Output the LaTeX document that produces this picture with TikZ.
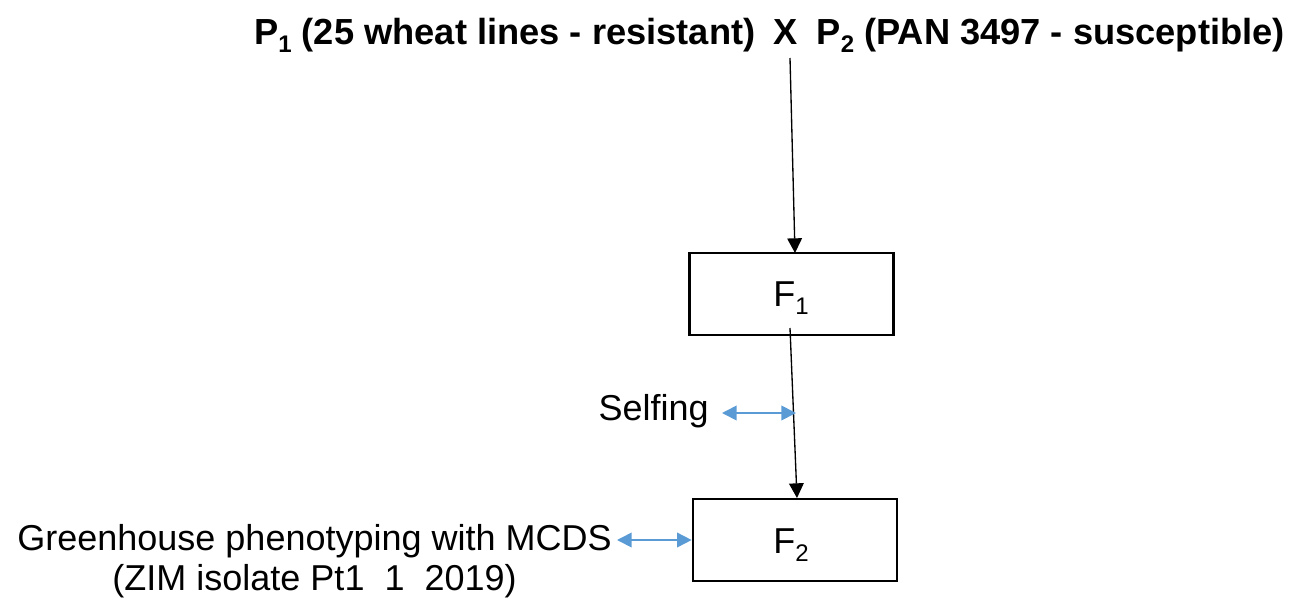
\documentclass[tikz,border=0pt]{standalone}
\usepackage{fontspec}
\setmainfont{Liberation Sans}
\usetikzlibrary{arrows.meta}
\definecolor{arrowblue}{RGB}{91,155,213}
\newcommand{\lowsub}[1]{\raisebox{-0.45ex}{\fontsize{18}{20}\selectfont #1}}
\tikzset{
  gbox/.style={draw=black, line width=2pt, minimum width=204*0.75pt, minimum height=82*0.75pt, inner sep=0pt},
  blk/.style={draw=black, line width=1pt, -{Triangle[length=11pt,width=11pt]}},
  blu/.style={draw=arrowblue, line width=1.3pt, {Triangle[length=11pt,width=11pt]}-{Triangle[length=11pt,width=11pt]}},
  ttl/.style={font=\bfseries\fontsize{27.2}{30}\selectfont, inner sep=0pt},
  txt/.style={font=\fontsize{27}{30}\selectfont, inner sep=0pt}
}
\begin{document}
\begin{tikzpicture}[x=0.75pt,y=-0.75pt]
\useasboundingbox (0,0) rectangle (1306,600);
\node[ttl, anchor=base] (x) at (786,44) {X};
\node[ttl, anchor=base east] (p1) at ([xshift=-18*0.75pt]x.base west) {P\lowsub{1} (25 wheat lines - resistant)};
\node[ttl, anchor=base west] (p2) at ([xshift=18*0.75pt]x.base east) {P\lowsub{2} (PAN 3497 - susceptible)};
\coordinate (xs) at (790,58);
\node[gbox] (f1) at (791.5,294) {};
\node[txt] (f1t) at (791,298) {F\lowsub{1}};
\node[gbox] (f2) at (795,540) {};
\node[txt] (f2t) at (791,545) {F\lowsub{2}};
\coordinate (f1s) at (790,328);
\node[txt, anchor=east] (self) at (709,411) {Selfing};
\coordinate (sr) at (796,413);
\node[txt, align=center, anchor=east] (gh) at (612,561) {Greenhouse phenotyping with MCDS\\(ZIM isolate Pt1\ \ 1\ \ 2019)};
\draw[blk] (xs) -- (795,253);
\draw[blk] (f1s) -- (797,498);
\coordinate (sl) at (722,413);
\draw[blu] (sl) -- (sr);
\coordinate (gl) at (617,540);
\draw[blu] (gl) -- (f2.west);
\end{tikzpicture}
\end{document}
